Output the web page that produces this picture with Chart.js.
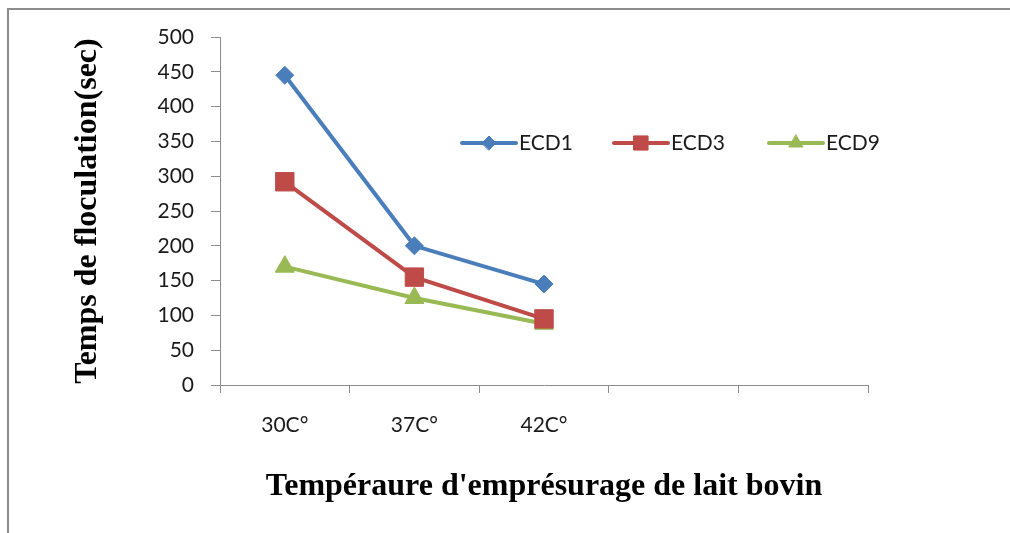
<!DOCTYPE html>
<html>
<head>
<meta charset="utf-8">
<script src="https://cdn.jsdelivr.net/npm/chart.js@4/dist/chart.umd.min.js"></script>
<style>
  html, body { margin: 0; padding: 0; background: #fff; }
  #wrap { width: 1010px; height: 533px; position: relative; }
</style>
</head>
<body>
<div id="wrap"><canvas id="chart"></canvas></div>
<script>
// data
const categories = ['30C°', '37C°', '42C°', '', ''];
const ecd1 = [445, 200, 145];
const ecd3 = [292, 155, 95];
const ecd9 = [170, 125, 88];
const yTicks = [0, 50, 100, 150, 200, 250, 300, 350, 400, 450, 500];

const tickFont = { family: 'Lato', size: 21 };
const titleFont = { family: 'Liberation Serif', size: 32, weight: 'bold' };

// outer gray frame (top + left edges visible)
const framePlugin = {
    id: 'frame',
    beforeDraw(chart) {
        const ctx = chart.ctx;
        ctx.save();
        ctx.strokeStyle = '#8c8c8c';
        ctx.lineWidth = 2;
        ctx.beginPath();
        ctx.moveTo(8, 533);
        ctx.lineTo(8, 9);
        ctx.lineTo(1010, 9);
        ctx.stroke();
        ctx.restore();
    },
};

// legend: line + marker + label, inside the plot
const legendPlugin = {
    id: 'lineLegend',
    afterDraw(chart) {
        const ctx = chart.ctx;
        const starts = [462, 614, 769];
        const y = 143;
        ctx.save();
        chart.data.datasets.forEach((ds, i) => {
            const x0 = starts[i];
            ctx.strokeStyle = ds.borderColor;
            ctx.lineWidth = 4;
            ctx.lineCap = 'round';
            ctx.beginPath();
            ctx.moveTo(x0, y);
            ctx.lineTo(x0 + 54, y);
            ctx.stroke();
            ctx.fillStyle = ds.pointBackgroundColor;
            ctx.strokeStyle = ds.pointBorderColor;
            ctx.lineWidth = 1;
            Chart.helpers.drawPoint(ctx, {
                pointStyle: ds.pointStyle,
                rotation: 0,
                radius: ds.legendRadius,
                borderWidth: 1,
            }, x0 + 27, y);
            ctx.fillStyle = '#1a1a1a';
            ctx.font = '21px Lato';
            ctx.textBaseline = 'middle';
            ctx.textAlign = 'left';
            ctx.fillText(ds.label, x0 + 57, y);
        });
        ctx.restore();
    },
};

new Chart(document.getElementById('chart'), {
    type: 'line',
    data: {
        labels: categories,
        datasets: [
            {
                label: 'ECD1',
                data: ecd1,
                borderColor: '#4a7ebb',
                pointBackgroundColor: '#4a7ebb',
                pointBorderColor: '#4a7ebb',
                pointStyle: 'rectRot',
                pointRadius: 9,
                legendRadius: 7,
            },
            {
                label: 'ECD3',
                data: ecd3,
                borderColor: '#be4b48',
                pointBackgroundColor: '#be4b48',
                pointBorderColor: '#be4b48',
                pointStyle: 'rect',
                pointRadius: 13,
                legendRadius: 10,
            },
            {
                label: 'ECD9',
                data: ecd9,
                borderColor: '#98b954',
                pointBackgroundColor: '#98b954',
                pointBorderColor: '#98b954',
                pointStyle: 'triangle',
                pointRadius: 11,
                legendRadius: 8,
            },
        ],
    },
    options: {
        responsive: true,
        maintainAspectRatio: false,
        animation: false,
        layout: {
            padding: { left: 60, right: 142, top: 37, bottom: 0 },
        },
        elements: {
            line: { borderWidth: 4, tension: 0 },
            point: { borderWidth: 1, hoverRadius: 9 },
        },
        plugins: {
            legend: { display: false },
            tooltip: { enabled: false },
        },
        scales: {
            x: {
                offset: true,
                grid: {
                    offset: true,
                    drawOnChartArea: false,
                    drawTicks: true,
                    tickLength: 8,
                    color: '#8c8c8c',
                },
                border: { color: '#8c8c8c', width: 1 },
                ticks: {
                    font: tickFont,
                    color: '#1a1a1a',
                    padding: 20,
                    maxRotation: 0,
                    autoSkip: false,
                },
                title: {
                    display: true,
                    text: "Tempéraure d'emprésurage de lait bovin",
                    font: titleFont,
                    color: '#000',
                    padding: { top: 0, bottom: 27 },
                },
                afterFit(scale) {
                    scale.height = 148;
                },
            },
            y: {
                min: 0,
                max: 500,
                afterBuildTicks(scale) {
                    scale.ticks = yTicks.map(v => ({ value: v }));
                },
                grid: {
                    drawOnChartArea: false,
                    drawTicks: true,
                    tickLength: 9,
                    color: '#8c8c8c',
                },
                border: { color: '#8c8c8c', width: 1 },
                ticks: {
                    font: tickFont,
                    color: '#1a1a1a',
                    padding: 17,
                },
                title: {
                    display: true,
                    text: 'Temps de floculation(sec)',
                    font: titleFont,
                    color: '#000',
                    padding: { top: 9, bottom: 0 },
                },
                afterFit(scale) {
                    scale.width = 160;
                },
            },
        },
    },
    plugins: [framePlugin, legendPlugin],
});
</script>
</body>
</html>
